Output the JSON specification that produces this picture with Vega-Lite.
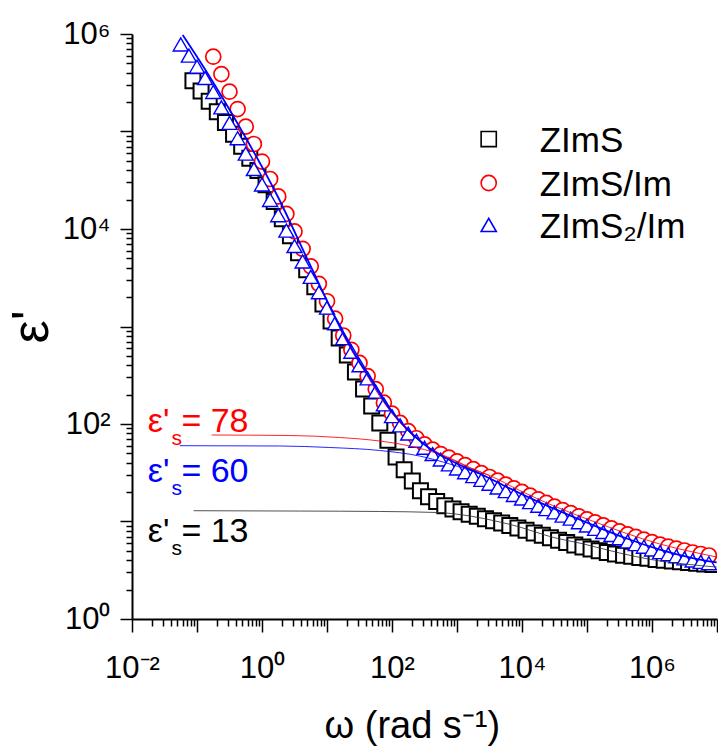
{
  "$schema": "https://vega.github.io/schema/vega-lite/v6.json",
  "width": 585,
  "height": 585,
  "autosize": {"type": "none"},
  "padding": {"left": 132, "top": 34, "right": 1, "bottom": 132},
  "background": "white",
  "config": {
    "view": {"stroke": null},
    "font": "Liberation Sans",
    "axis": {
      "grid": false,
      "domainColor": "black",
      "domainWidth": 2,
      "tickColor": "black",
      "tickWidth": 1.5,
      "labelColor": "black",
      "titleColor": "black",
      "labelFont": "Liberation Sans",
      "titleFont": "Liberation Sans",
      "titleFontWeight": "normal",
      "labelOverlap": false,
      "labelFlush": false,
      "labelBound": false
    }
  },
  "datasets": {
    "pts": [
      {"series": "ZImS", "omega": 0.086596, "eps": 331100},
      {"series": "ZImS", "omega": 0.11548, "eps": 260000},
      {"series": "ZImS", "omega": 0.15399, "eps": 204600},
      {"series": "ZImS", "omega": 0.20535, "eps": 159200},
      {"series": "ZImS", "omega": 0.27384, "eps": 123900},
      {"series": "ZImS", "omega": 0.36517, "eps": 93760},
      {"series": "ZImS", "omega": 0.48697, "eps": 70790},
      {"series": "ZImS", "omega": 0.64938, "eps": 53210},
      {"series": "ZImS", "omega": 0.86596, "eps": 39810},
      {"series": "ZImS", "omega": 1.1548, "eps": 28440},
      {"series": "ZImS", "omega": 1.5399, "eps": 19100},
      {"series": "ZImS", "omega": 2.0535, "eps": 12760},
      {"series": "ZImS", "omega": 2.7384, "eps": 8531},
      {"series": "ZImS", "omega": 3.6517, "eps": 5715},
      {"series": "ZImS", "omega": 4.8697, "eps": 3819},
      {"series": "ZImS", "omega": 6.4938, "eps": 2553},
      {"series": "ZImS", "omega": 8.6596, "eps": 1706},
      {"series": "ZImS", "omega": 11.548, "eps": 1140},
      {"series": "ZImS", "omega": 15.399, "eps": 764},
      {"series": "ZImS", "omega": 20.535, "eps": 510},
      {"series": "ZImS", "omega": 27.384, "eps": 341},
      {"series": "ZImS", "omega": 36.517, "eps": 229},
      {"series": "ZImS", "omega": 48.697, "eps": 153},
      {"series": "ZImS", "omega": 64.938, "eps": 102.1},
      {"series": "ZImS", "omega": 86.596, "eps": 68.2},
      {"series": "ZImS", "omega": 115.48, "eps": 45.8},
      {"series": "ZImS", "omega": 153.99, "eps": 34.0},
      {"series": "ZImS", "omega": 205.35, "eps": 26.1},
      {"series": "ZImS", "omega": 273.84, "eps": 20.7},
      {"series": "ZImS", "omega": 365.17, "eps": 17.9},
      {"series": "ZImS", "omega": 486.97, "eps": 16.0},
      {"series": "ZImS", "omega": 649.38, "eps": 14.5},
      {"series": "ZImS", "omega": 865.96, "eps": 13.4},
      {"series": "ZImS", "omega": 1154.8, "eps": 12.6},
      {"series": "ZImS", "omega": 1539.9, "eps": 11.9},
      {"series": "ZImS", "omega": 2053.5, "eps": 11.3},
      {"series": "ZImS", "omega": 2738.4, "eps": 10.7},
      {"series": "ZImS", "omega": 3651.7, "eps": 10.2},
      {"series": "ZImS", "omega": 4869.7, "eps": 9.63},
      {"series": "ZImS", "omega": 6493.8, "eps": 9.10},
      {"series": "ZImS", "omega": 8659.6, "eps": 8.57},
      {"series": "ZImS", "omega": 11548, "eps": 8.11},
      {"series": "ZImS", "omega": 15399, "eps": 7.64},
      {"series": "ZImS", "omega": 20535, "eps": 7.21},
      {"series": "ZImS", "omega": 27384, "eps": 6.82},
      {"series": "ZImS", "omega": 36517, "eps": 6.44},
      {"series": "ZImS", "omega": 48697, "eps": 6.08},
      {"series": "ZImS", "omega": 64938, "eps": 5.74},
      {"series": "ZImS", "omega": 86596, "eps": 5.46},
      {"series": "ZImS", "omega": 115480, "eps": 5.22},
      {"series": "ZImS", "omega": 153990, "eps": 5.00},
      {"series": "ZImS", "omega": 205350, "eps": 4.81},
      {"series": "ZImS", "omega": 273840, "eps": 4.64},
      {"series": "ZImS", "omega": 365170, "eps": 4.50},
      {"series": "ZImS", "omega": 486970, "eps": 4.39},
      {"series": "ZImS", "omega": 649380, "eps": 4.28},
      {"series": "ZImS", "omega": 865960, "eps": 4.19},
      {"series": "ZImS", "omega": 1154800, "eps": 4.08},
      {"series": "ZImS", "omega": 1539900, "eps": 4.01},
      {"series": "ZImS", "omega": 2053500, "eps": 3.94},
      {"series": "ZImS", "omega": 2738400, "eps": 3.86},
      {"series": "ZImS", "omega": 3651700, "eps": 3.79},
      {"series": "ZImS", "omega": 4869700, "eps": 3.73},
      {"series": "ZImS", "omega": 6493800, "eps": 3.67},
      {"series": "ZImS", "omega": 8659600, "eps": 3.62},

      {"series": "ZImS/Im", "omega": 0.17783, "eps": 585000},
      {"series": "ZImS/Im", "omega": 0.23714, "eps": 388000},
      {"series": "ZImS/Im", "omega": 0.31623, "eps": 256000},
      {"series": "ZImS/Im", "omega": 0.42170, "eps": 170000},
      {"series": "ZImS/Im", "omega": 0.56234, "eps": 112200},
      {"series": "ZImS/Im", "omega": 0.74989, "eps": 74470},
      {"series": "ZImS/Im", "omega": 1, "eps": 49200},
      {"series": "ZImS/Im", "omega": 1.3335, "eps": 32580},
      {"series": "ZImS/Im", "omega": 1.7783, "eps": 21580},
      {"series": "ZImS/Im", "omega": 2.3714, "eps": 14290},
      {"series": "ZImS/Im", "omega": 3.1623, "eps": 9441},
      {"series": "ZImS/Im", "omega": 4.2170, "eps": 6266},
      {"series": "ZImS/Im", "omega": 5.6234, "eps": 4140},
      {"series": "ZImS/Im", "omega": 7.4989, "eps": 2742},
      {"series": "ZImS/Im", "omega": 10, "eps": 1816},
      {"series": "ZImS/Im", "omega": 13.335, "eps": 1202},
      {"series": "ZImS/Im", "omega": 17.783, "eps": 809},
      {"series": "ZImS/Im", "omega": 23.714, "eps": 577},
      {"series": "ZImS/Im", "omega": 31.623, "eps": 423},
      {"series": "ZImS/Im", "omega": 42.170, "eps": 310},
      {"series": "ZImS/Im", "omega": 56.234, "eps": 227.5},
      {"series": "ZImS/Im", "omega": 74.989, "eps": 165.6},
      {"series": "ZImS/Im", "omega": 100, "eps": 127.9},
      {"series": "ZImS/Im", "omega": 133.35, "eps": 102.6},
      {"series": "ZImS/Im", "omega": 177.83, "eps": 84.5},
      {"series": "ZImS/Im", "omega": 237.14, "eps": 71.4},
      {"series": "ZImS/Im", "omega": 316.23, "eps": 61.8},
      {"series": "ZImS/Im", "omega": 421.70, "eps": 54.6},
      {"series": "ZImS/Im", "omega": 562.34, "eps": 49.2},
      {"series": "ZImS/Im", "omega": 749.89, "eps": 45.2},
      {"series": "ZImS/Im", "omega": 1000, "eps": 41.4},
      {"series": "ZImS/Im", "omega": 1333.5, "eps": 37.8},
      {"series": "ZImS/Im", "omega": 1778.3, "eps": 34.4},
      {"series": "ZImS/Im", "omega": 2371.4, "eps": 31.3},
      {"series": "ZImS/Im", "omega": 3162.3, "eps": 28.6},
      {"series": "ZImS/Im", "omega": 4217.0, "eps": 26.2},
      {"series": "ZImS/Im", "omega": 5623.4, "eps": 23.9},
      {"series": "ZImS/Im", "omega": 7498.9, "eps": 21.9},
      {"series": "ZImS/Im", "omega": 10000, "eps": 20.1},
      {"series": "ZImS/Im", "omega": 13335, "eps": 18.4},
      {"series": "ZImS/Im", "omega": 17783, "eps": 16.9},
      {"series": "ZImS/Im", "omega": 23714, "eps": 15.5},
      {"series": "ZImS/Im", "omega": 31623, "eps": 14.2},
      {"series": "ZImS/Im", "omega": 42170, "eps": 13.1},
      {"series": "ZImS/Im", "omega": 56234, "eps": 12.2},
      {"series": "ZImS/Im", "omega": 74989, "eps": 11.3},
      {"series": "ZImS/Im", "omega": 100000, "eps": 10.5},
      {"series": "ZImS/Im", "omega": 133350, "eps": 9.79},
      {"series": "ZImS/Im", "omega": 177830, "eps": 9.12},
      {"series": "ZImS/Im", "omega": 237140, "eps": 8.49},
      {"series": "ZImS/Im", "omega": 316230, "eps": 7.91},
      {"series": "ZImS/Im", "omega": 421700, "eps": 7.38},
      {"series": "ZImS/Im", "omega": 562340, "eps": 6.95},
      {"series": "ZImS/Im", "omega": 749890, "eps": 6.53},
      {"series": "ZImS/Im", "omega": 1000000, "eps": 6.15},
      {"series": "ZImS/Im", "omega": 1333500, "eps": 5.79},
      {"series": "ZImS/Im", "omega": 1778300, "eps": 5.53},
      {"series": "ZImS/Im", "omega": 2371400, "eps": 5.28},
      {"series": "ZImS/Im", "omega": 3162300, "eps": 5.04},
      {"series": "ZImS/Im", "omega": 4217000, "eps": 4.81},
      {"series": "ZImS/Im", "omega": 5623400, "eps": 4.64},
      {"series": "ZImS/Im", "omega": 7498900, "eps": 4.48},

      {"series": "ZImS₂/Im", "omega": 0.056234, "eps": 781600},
      {"series": "ZImS₂/Im", "omega": 0.074989, "eps": 599800},
      {"series": "ZImS₂/Im", "omega": 0.1, "eps": 461300},
      {"series": "ZImS₂/Im", "omega": 0.13335, "eps": 353200},
      {"series": "ZImS₂/Im", "omega": 0.17783, "eps": 254100},
      {"series": "ZImS₂/Im", "omega": 0.23714, "eps": 176600},
      {"series": "ZImS₂/Im", "omega": 0.31623, "eps": 122700},
      {"series": "ZImS₂/Im", "omega": 0.42170, "eps": 85310},
      {"series": "ZImS₂/Im", "omega": 0.56234, "eps": 59290},
      {"series": "ZImS₂/Im", "omega": 0.74989, "eps": 41210},
      {"series": "ZImS₂/Im", "omega": 1, "eps": 28640},
      {"series": "ZImS₂/Im", "omega": 1.3335, "eps": 19860},
      {"series": "ZImS₂/Im", "omega": 1.7783, "eps": 13840},
      {"series": "ZImS₂/Im", "omega": 2.3714, "eps": 9616},
      {"series": "ZImS₂/Im", "omega": 3.1623, "eps": 6683},
      {"series": "ZImS₂/Im", "omega": 4.2170, "eps": 4645},
      {"series": "ZImS₂/Im", "omega": 5.6234, "eps": 3228},
      {"series": "ZImS₂/Im", "omega": 7.4989, "eps": 2244},
      {"series": "ZImS₂/Im", "omega": 10, "eps": 1560},
      {"series": "ZImS₂/Im", "omega": 13.335, "eps": 1081},
      {"series": "ZImS₂/Im", "omega": 17.783, "eps": 760},
      {"series": "ZImS₂/Im", "omega": 23.714, "eps": 551},
      {"series": "ZImS₂/Im", "omega": 31.623, "eps": 400},
      {"series": "ZImS₂/Im", "omega": 42.170, "eps": 294},
      {"series": "ZImS₂/Im", "omega": 56.234, "eps": 215},
      {"series": "ZImS₂/Im", "omega": 74.989, "eps": 159},
      {"series": "ZImS₂/Im", "omega": 100, "eps": 120.5},
      {"series": "ZImS₂/Im", "omega": 133.35, "eps": 96.8},
      {"series": "ZImS₂/Im", "omega": 177.83, "eps": 79.8},
      {"series": "ZImS₂/Im", "omega": 237.14, "eps": 67.3},
      {"series": "ZImS₂/Im", "omega": 316.23, "eps": 57.1},
      {"series": "ZImS₂/Im", "omega": 421.70, "eps": 49.2},
      {"series": "ZImS₂/Im", "omega": 562.34, "eps": 43.2},
      {"series": "ZImS₂/Im", "omega": 749.89, "eps": 38.5},
      {"series": "ZImS₂/Im", "omega": 1000, "eps": 35.0},
      {"series": "ZImS₂/Im", "omega": 1333.5, "eps": 32.0},
      {"series": "ZImS₂/Im", "omega": 1778.3, "eps": 29.2},
      {"series": "ZImS₂/Im", "omega": 2371.4, "eps": 26.7},
      {"series": "ZImS₂/Im", "omega": 3162.3, "eps": 24.4},
      {"series": "ZImS₂/Im", "omega": 4217.0, "eps": 22.3},
      {"series": "ZImS₂/Im", "omega": 5623.4, "eps": 20.5},
      {"series": "ZImS₂/Im", "omega": 7498.9, "eps": 18.7},
      {"series": "ZImS₂/Im", "omega": 10000, "eps": 17.2},
      {"series": "ZImS₂/Im", "omega": 13335, "eps": 15.8},
      {"series": "ZImS₂/Im", "omega": 17783, "eps": 14.5},
      {"series": "ZImS₂/Im", "omega": 23714, "eps": 13.4},
      {"series": "ZImS₂/Im", "omega": 31623, "eps": 12.4},
      {"series": "ZImS₂/Im", "omega": 42170, "eps": 11.5},
      {"series": "ZImS₂/Im", "omega": 56234, "eps": 10.7},
      {"series": "ZImS₂/Im", "omega": 74989, "eps": 9.84},
      {"series": "ZImS₂/Im", "omega": 100000, "eps": 9.10},
      {"series": "ZImS₂/Im", "omega": 133350, "eps": 8.41},
      {"series": "ZImS₂/Im", "omega": 177830, "eps": 7.80},
      {"series": "ZImS₂/Im", "omega": 237140, "eps": 7.26},
      {"series": "ZImS₂/Im", "omega": 316230, "eps": 6.73},
      {"series": "ZImS₂/Im", "omega": 421700, "eps": 6.25},
      {"series": "ZImS₂/Im", "omega": 562340, "eps": 5.86},
      {"series": "ZImS₂/Im", "omega": 749890, "eps": 5.51},
      {"series": "ZImS₂/Im", "omega": 1000000, "eps": 5.16},
      {"series": "ZImS₂/Im", "omega": 1333500, "eps": 4.85},
      {"series": "ZImS₂/Im", "omega": 1778300, "eps": 4.62},
      {"series": "ZImS₂/Im", "omega": 2371400, "eps": 4.40},
      {"series": "ZImS₂/Im", "omega": 3162300, "eps": 4.19},
      {"series": "ZImS₂/Im", "omega": 4217000, "eps": 3.98},
      {"series": "ZImS₂/Im", "omega": 5623400, "eps": 3.85},
      {"series": "ZImS₂/Im", "omega": 7498900, "eps": 3.73}
    ],
    "fits": [
      {"series": "ZImS", "curve": "plateau", "omega": 0.0889, "eps": 12.9},
      {"series": "ZImS", "curve": "plateau", "omega": 3.802, "eps": 12.8},
      {"series": "ZImS", "curve": "plateau", "omega": 64.7, "eps": 12.67},
      {"series": "ZImS", "curve": "plateau", "omega": 487.5, "eps": 12.37},
      {"series": "ZImS", "curve": "plateau", "omega": 1567, "eps": 11.4},
      {"series": "ZImS", "curve": "plateau", "omega": 4539, "eps": 9.89},
      {"series": "ZImS", "curve": "plateau", "omega": 9226, "eps": 8.78},
      {"series": "ZImS", "curve": "plateau", "omega": 26670, "eps": 7.02},
      {"series": "ZImS", "curve": "plateau", "omega": 88920, "eps": 5.88},
      {"series": "ZImS", "curve": "plateau", "omega": 318400, "eps": 4.75},
      {"series": "ZImS", "curve": "plateau", "omega": 955000, "eps": 4.08},
      {"series": "ZImS", "curve": "plateau", "omega": 3800000, "eps": 3.62},
      {"series": "ZImS", "curve": "plateau", "omega": 9890000, "eps": 3.41},

      {"series": "ZImS/Im", "curve": "plateau", "omega": 0.168, "eps": 77.1},
      {"series": "ZImS/Im", "curve": "plateau", "omega": 2.667, "eps": 76.2},
      {"series": "ZImS/Im", "curve": "plateau", "omega": 15.67, "eps": 72.7},
      {"series": "ZImS/Im", "curve": "plateau", "omega": 64.7, "eps": 66.9},
      {"series": "ZImS/Im", "curve": "plateau", "omega": 187, "eps": 59.5},
      {"series": "ZImS/Im", "curve": "plateau", "omega": 542, "eps": 48.8},
      {"series": "ZImS/Im", "curve": "plateau", "omega": 1567, "eps": 35.5},
      {"series": "ZImS/Im", "curve": "plateau", "omega": 3184, "eps": 29.6},
      {"series": "ZImS/Im", "curve": "plateau", "omega": 9226, "eps": 20.8},
      {"series": "ZImS/Im", "curve": "plateau", "omega": 29650, "eps": 14.6},
      {"series": "ZImS/Im", "curve": "plateau", "omega": 122400, "eps": 10.1},
      {"series": "ZImS/Im", "curve": "plateau", "omega": 408300, "eps": 7.53},
      {"series": "ZImS/Im", "curve": "plateau", "omega": 1315000, "eps": 5.88},
      {"series": "ZImS/Im", "curve": "plateau", "omega": 4227000, "eps": 4.87},
      {"series": "ZImS/Im", "curve": "plateau", "omega": 9890000, "eps": 4.32},

      {"series": "ZImS/Im", "curve": "full", "omega": 15.67, "eps": 953},
      {"series": "ZImS/Im", "curve": "full", "omega": 22.3, "eps": 616},
      {"series": "ZImS/Im", "curve": "full", "omega": 38.0, "eps": 345},
      {"series": "ZImS/Im", "curve": "full", "omega": 68.7, "eps": 180.5},
      {"series": "ZImS/Im", "curve": "full", "omega": 131.3, "eps": 103.6},
      {"series": "ZImS/Im", "curve": "full", "omega": 266.6, "eps": 66.9},
      {"series": "ZImS/Im", "curve": "full", "omega": 542, "eps": 49.8},
      {"series": "ZImS/Im", "curve": "full", "omega": 979, "eps": 41.8},
      {"series": "ZImS/Im", "curve": "full", "omega": 1567, "eps": 35.8},
      {"series": "ZImS/Im", "curve": "full", "omega": 3184, "eps": 29.6},

      {"series": "ZImS₂/Im", "curve": "plateau", "omega": 0.0542, "eps": 59.9},
      {"series": "ZImS₂/Im", "curve": "plateau", "omega": 1.871, "eps": 59.5},
      {"series": "ZImS₂/Im", "curve": "plateau", "omega": 11.02, "eps": 57.4},
      {"series": "ZImS₂/Im", "curve": "plateau", "omega": 64.7, "eps": 53.5},
      {"series": "ZImS₂/Im", "curve": "plateau", "omega": 266.6, "eps": 46.9},
      {"series": "ZImS₂/Im", "curve": "plateau", "omega": 772, "eps": 38.9},
      {"series": "ZImS₂/Im", "curve": "plateau", "omega": 2234, "eps": 30.7},
      {"series": "ZImS₂/Im", "curve": "plateau", "omega": 5047, "eps": 23.7},

      {"series": "ZImS₂/Im", "curve": "full", "omega": 0.0603, "eps": 977000},
      {"series": "ZImS₂/Im", "curve": "full", "omega": 0.1476, "eps": 389000},
      {"series": "ZImS₂/Im", "curve": "full", "omega": 0.5105, "eps": 96600},
      {"series": "ZImS₂/Im", "curve": "full", "omega": 1.762, "eps": 21290},
      {"series": "ZImS₂/Im", "curve": "full", "omega": 5.224, "eps": 4592},
      {"series": "ZImS₂/Im", "curve": "full", "omega": 16.67, "eps": 920},
      {"series": "ZImS₂/Im", "curve": "full", "omega": 28.3, "eps": 486},
      {"series": "ZImS₂/Im", "curve": "full", "omega": 45.4, "eps": 296.5},
      {"series": "ZImS₂/Im", "curve": "full", "omega": 64.7, "eps": 203},
      {"series": "ZImS₂/Im", "curve": "full", "omega": 92.2, "eps": 142.6},
      {"series": "ZImS₂/Im", "curve": "full", "omega": 131.3, "eps": 107.4},
      {"series": "ZImS₂/Im", "curve": "full", "omega": 187, "eps": 83.8},
      {"series": "ZImS₂/Im", "curve": "full", "omega": 266.6, "eps": 67.7},
      {"series": "ZImS₂/Im", "curve": "full", "omega": 380, "eps": 56.1},
      {"series": "ZImS₂/Im", "curve": "full", "omega": 647, "eps": 45.3},
      {"series": "ZImS₂/Im", "curve": "full", "omega": 1102, "eps": 38.0},
      {"series": "ZImS₂/Im", "curve": "full", "omega": 2234, "eps": 31.1},
      {"series": "ZImS₂/Im", "curve": "full", "omega": 5047, "eps": 23.7},
      {"series": "ZImS₂/Im", "curve": "full", "omega": 16830, "eps": 16.2},
      {"series": "ZImS₂/Im", "curve": "full", "omega": 48750, "eps": 11.9},
      {"series": "ZImS₂/Im", "curve": "full", "omega": 122400, "eps": 9.21},
      {"series": "ZImS₂/Im", "curve": "full", "omega": 408300, "eps": 6.69},
      {"series": "ZImS₂/Im", "curve": "full", "omega": 1315000, "eps": 5.16},
      {"series": "ZImS₂/Im", "curve": "full", "omega": 4227000, "eps": 4.22},
      {"series": "ZImS₂/Im", "curve": "full", "omega": 9890000, "eps": 3.80}
    ],
    "notes": [
      {"series": "ZImS/Im", "part": "eps", "label": "ε'", "omega": 0.01746, "eps": 83.4},
      {"series": "ZImS/Im", "part": "sub", "label": "s", "omega": 0.04036, "eps": 60.9},
      {"series": "ZImS/Im", "part": "val", "label": "= 78", "omega": 0.0575, "eps": 83.4},
      {"series": "ZImS₂/Im", "part": "eps", "label": "ε'", "omega": 0.01746, "eps": 25.6},
      {"series": "ZImS₂/Im", "part": "sub", "label": "s", "omega": 0.04036, "eps": 18.7},
      {"series": "ZImS₂/Im", "part": "val", "label": "= 60", "omega": 0.0575, "eps": 25.6},
      {"series": "ZImS", "part": "eps", "label": "ε'", "omega": 0.01746, "eps": 6.21},
      {"series": "ZImS", "part": "sub", "label": "s", "omega": 0.04036, "eps": 4.53},
      {"series": "ZImS", "part": "val", "label": "= 13", "omega": 0.0575, "eps": 6.21}
    ],
    "key": [
      {"series": "ZImS", "part": "symbol", "label": "ZImS", "omega": 3076, "eps": 83750},
      {"series": "ZImS/Im", "part": "symbol", "label": "ZImS/Im", "omega": 3076, "eps": 29640},
      {"series": "ZImS₂/Im", "part": "symbol", "label": "ZImS₂/Im", "omega": 3076, "eps": 10990},
      {"series": "ZImS", "part": "label", "label": "ZImS", "omega": 18700, "eps": 83750},
      {"series": "ZImS/Im", "part": "label", "label": "ZImS/Im", "omega": 18700, "eps": 29640},
      {"series": "ZImS₂/Im", "part": "label", "label": "ZImS₂/Im", "omega": 18700, "eps": 10990}
    ]
  },
  "encoding": {
    "x": {
      "field": "omega",
      "type": "quantitative",
      "scale": {"type": "log", "domain": [0.01, 10000000], "nice": false},
      "axis": {
        "title": "ω (rad s⁻¹)",
        "titleFontSize": 38,
        "titlePadding": 24,
        "titleX": 192,
        "titleAlign": "left",
        "labelFontSize": 31,
        "labelPadding": 21,
        "values": [0.01,0.02,0.03,0.04,0.05,0.06,0.07,0.08,0.09,0.1,0.2,0.3,0.4,0.5,0.6,0.7,0.8,0.9,1,2,3,4,5,6,7,8,9,10,20,30,40,50,60,70,80,90,100,200,300,400,500,600,700,800,900,1000,2000,3000,4000,5000,6000,7000,8000,9000,10000,20000,30000,40000,50000,60000,70000,80000,90000,100000,200000,300000,400000,500000,600000,700000,800000,900000,1000000,2000000,3000000,4000000,5000000,6000000,7000000,8000000,9000000,10000000],
        "labelExpr": "datum.value == 0.01 ? '10⁻²' : datum.value == 1 ? '10⁰' : datum.value == 100 ? '10²' : datum.value == 10000 ? '10⁴' : datum.value == 1000000 ? '10⁶' : ''",
        "tickSize": {"condition": {"test": "abs(log(datum.value)/LN10 - round(log(datum.value)/LN10)) < 0.001", "value": 13}, "value": 7}
      }
    },
    "y": {
      "field": "eps",
      "type": "quantitative",
      "scale": {"type": "log", "domain": [1, 1000000], "nice": false},
      "axis": {
        "title": "ε'",
        "titleFontSize": 52,
        "titlePadding": 4,
        "labelFontSize": 31,
        "labelPadding": 10,
        "values": [1,2,3,4,5,6,7,8,9,10,20,30,40,50,60,70,80,90,100,200,300,400,500,600,700,800,900,1000,2000,3000,4000,5000,6000,7000,8000,9000,10000,20000,30000,40000,50000,60000,70000,80000,90000,100000,200000,300000,400000,500000,600000,700000,800000,900000,1000000],
        "labelExpr": "datum.value == 1 ? '10⁰' : datum.value == 100 ? '10²' : datum.value == 10000 ? '10⁴' : datum.value == 1000000 ? '10⁶' : ''",
        "tickSize": {"condition": {"test": "abs(log(datum.value)/LN10 - round(log(datum.value)/LN10)) < 0.001", "value": 12}, "value": 6}
      }
    }
  },
  "layer": [
    {
      "data": {"name": "pts"},
      "mark": {"type": "point", "filled": false, "fill": "white", "fillOpacity": 1, "opacity": 1, "clip": true},
      "encoding": {
        "stroke": {
          "field": "series", "type": "nominal",
          "scale": {"domain": ["ZImS", "ZImS/Im", "ZImS₂/Im"], "range": ["#000000", "#ff0000", "#0000ff"]},
          "legend": null
        },
        "shape": {
          "field": "series", "type": "nominal",
          "scale": {"domain": ["ZImS", "ZImS/Im", "ZImS₂/Im"], "range": ["square", "circle", "triangle-up"]},
          "legend": null
        },
        "size": {
          "field": "series", "type": "nominal",
          "scale": {"domain": ["ZImS", "ZImS/Im", "ZImS₂/Im"], "range": [225, 225, 340]},
          "legend": null
        },
        "strokeWidth": {
          "field": "series", "type": "nominal",
          "scale": {"domain": ["ZImS", "ZImS/Im", "ZImS₂/Im"], "range": [2, 1.4, 1.4]},
          "legend": null
        }
      }
    },
    {
      "data": {"name": "fits"},
      "transform": [{"filter": "datum.series == 'ZImS'"}],
      "mark": {"type": "line", "strokeWidth": 1, "color": "#333333", "opacity": 0.85, "clip": true, "interpolate": "monotone"},
      "encoding": {"detail": {"field": "curve", "type": "nominal"}}
    },
    {
      "data": {"name": "fits"},
      "transform": [{"filter": "datum.series == 'ZImS/Im'"}],
      "mark": {"type": "line", "strokeWidth": 1, "color": "#ff0000", "opacity": 0.85, "clip": true, "interpolate": "monotone"},
      "encoding": {"detail": {"field": "curve", "type": "nominal"}}
    },
    {
      "data": {"name": "fits"},
      "transform": [{"filter": "datum.series == 'ZImS₂/Im' && datum.curve == 'plateau'"}],
      "mark": {"type": "line", "strokeWidth": 1, "color": "#0000ff", "opacity": 0.85, "clip": true, "interpolate": "monotone"},
      "encoding": {}
    },
    {
      "data": {"name": "fits"},
      "transform": [{"filter": "datum.series == 'ZImS₂/Im' && datum.curve == 'full'"}],
      "mark": {"type": "line", "strokeWidth": 1.8, "color": "#0000ff", "clip": true, "interpolate": "monotone"},
      "encoding": {}
    },
    {
      "data": {"name": "key"},
      "transform": [{"filter": "datum.part == 'symbol'"}],
      "mark": {"type": "point", "filled": false, "fill": "white", "fillOpacity": 1, "size": 230, "strokeWidth": 1.6},
      "encoding": {
        "stroke": {"field": "series", "type": "nominal", "legend": null},
        "shape": {"field": "series", "type": "nominal", "legend": null}
      }
    },
    {
      "data": {"name": "key"},
      "transform": [{"filter": "datum.part == 'label'"}],
      "mark": {"type": "text", "align": "left", "baseline": "middle", "fontSize": 35, "font": "Liberation Sans", "color": "#000000", "dy": 2},
      "encoding": {"text": {"field": "label", "type": "nominal"}}
    },
    {
      "data": {"name": "notes"},
      "transform": [{"filter": "datum.series == 'ZImS/Im' && datum.part != 'sub'"}],
      "mark": {"type": "text", "align": "left", "baseline": "alphabetic", "fontSize": 34, "font": "Liberation Sans", "color": "#ff0000"},
      "encoding": {"text": {"field": "label", "type": "nominal"}}
    },
    {
      "data": {"name": "notes"},
      "transform": [{"filter": "datum.series == 'ZImS₂/Im' && datum.part != 'sub'"}],
      "mark": {"type": "text", "align": "left", "baseline": "alphabetic", "fontSize": 34, "font": "Liberation Sans", "color": "#0000ff"},
      "encoding": {"text": {"field": "label", "type": "nominal"}}
    },
    {
      "data": {"name": "notes"},
      "transform": [{"filter": "datum.series == 'ZImS' && datum.part != 'sub'"}],
      "mark": {"type": "text", "align": "left", "baseline": "alphabetic", "fontSize": 34, "font": "Liberation Sans", "color": "#000000"},
      "encoding": {"text": {"field": "label", "type": "nominal"}}
    },
    {
      "data": {"name": "notes"},
      "transform": [{"filter": "datum.series == 'ZImS/Im' && datum.part == 'sub'"}],
      "mark": {"type": "text", "align": "left", "baseline": "alphabetic", "fontSize": 21, "font": "Liberation Sans", "color": "#ff0000"},
      "encoding": {"text": {"field": "label", "type": "nominal"}}
    },
    {
      "data": {"name": "notes"},
      "transform": [{"filter": "datum.series == 'ZImS₂/Im' && datum.part == 'sub'"}],
      "mark": {"type": "text", "align": "left", "baseline": "alphabetic", "fontSize": 21, "font": "Liberation Sans", "color": "#0000ff"},
      "encoding": {"text": {"field": "label", "type": "nominal"}}
    },
    {
      "data": {"name": "notes"},
      "transform": [{"filter": "datum.series == 'ZImS' && datum.part == 'sub'"}],
      "mark": {"type": "text", "align": "left", "baseline": "alphabetic", "fontSize": 21, "font": "Liberation Sans", "color": "#000000"},
      "encoding": {"text": {"field": "label", "type": "nominal"}}
    }
  ]
}
